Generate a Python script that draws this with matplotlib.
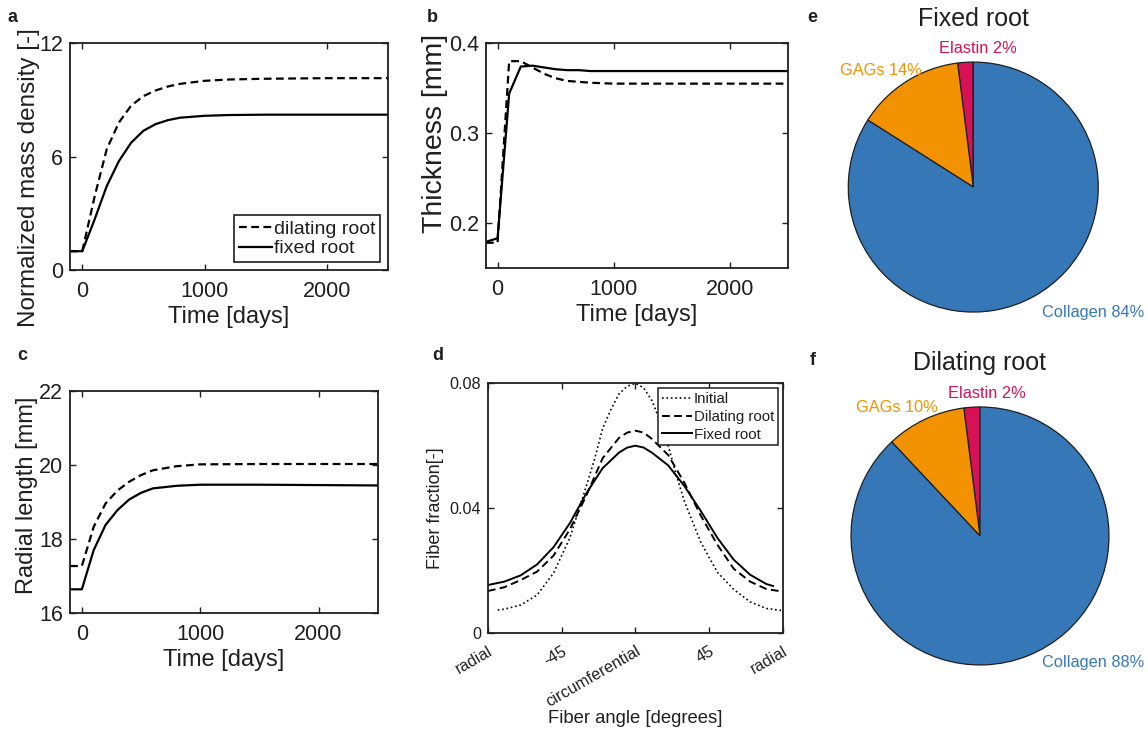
import numpy as np
import matplotlib.pyplot as plt
from matplotlib.transforms import ScaledTranslation

plt.rcParams['font.family'] = ['Liberation Sans', 'DejaVu Sans']
plt.rcParams['text.color'] = '#1f1f1f'
plt.rcParams['axes.labelcolor'] = '#1f1f1f'
plt.rcParams['xtick.color'] = '#1f1f1f'
plt.rcParams['ytick.color'] = '#1f1f1f'

# a: normalized mass density
t_a = [-100, 0, 100, 200, 300, 400, 500, 600, 700, 800, 1000, 1200, 1500, 2000, 2500]
dens_dil = [1.0, 1.0, 3.86, 6.39, 7.81, 8.70, 9.20, 9.50, 9.71, 9.85, 10.01, 10.08, 10.12, 10.15, 10.15]
dens_fix = [1.0, 1.0, 2.66, 4.44, 5.77, 6.74, 7.37, 7.72, 7.93, 8.06, 8.16, 8.20, 8.22, 8.22, 8.22]

# b: thickness
t_b = [-100, 0, 100, 200, 300, 400, 500, 600, 700, 800, 1000, 1500, 2500]
thick_dil = [0.178, 0.178, 0.380, 0.380, 0.373, 0.366, 0.361, 0.358, 0.357, 0.356, 0.355, 0.355, 0.355]
thick_fix = [0.179, 0.183, 0.344, 0.374, 0.375, 0.373, 0.371, 0.370, 0.370, 0.369, 0.369, 0.369, 0.369]

# c: radial length
t_c = [-100, 0, 100, 200, 300, 400, 500, 600, 800, 1000, 1500, 2000, 2500]
rad_dil = [17.27, 17.27, 18.33, 18.96, 19.31, 19.55, 19.73, 19.86, 19.97, 20.02, 20.03, 20.03, 20.03]
rad_fix = [16.64, 16.64, 17.70, 18.38, 18.78, 19.07, 19.25, 19.37, 19.44, 19.47, 19.47, 19.46, 19.45]

# d: fiber distributions
ang_init = [-84, -80, -70, -60, -50, -40, -30, -25, -20, -15, -10, -5, 0, 5, 10, 15, 20, 25, 30, 40, 50, 60, 70, 80, 90]
frac_init = [0.0074, 0.0077, 0.0090, 0.0122, 0.0192, 0.0305, 0.0470, 0.0556, 0.0655, 0.0715, 0.0766, 0.0790, 0.0800,
             0.0785, 0.0745, 0.0680, 0.0600, 0.0505, 0.0420, 0.0290, 0.0195, 0.0140, 0.0100, 0.0079, 0.0072]
ang_dil = [-90, -80, -70, -60, -50, -40, -30, -20, -10, -5, 0, 5, 10, 20, 30, 40, 50, 60, 70, 80, 90]
frac_dil = [0.0135, 0.0147, 0.0170, 0.0197, 0.0248, 0.0332, 0.0440, 0.0560, 0.0625, 0.0642, 0.0648,
            0.0642, 0.0622, 0.0570, 0.0480, 0.0375, 0.0283, 0.0206, 0.0165, 0.0141, 0.0133]
ang_fix = [-90, -80, -70, -60, -50, -40, -30, -20, -10, -5, 0, 5, 10, 20, 30, 40, 50, 60, 70, 80, 84]
frac_fix = [0.0154, 0.0165, 0.0185, 0.0220, 0.0275, 0.0352, 0.0447, 0.0528, 0.0578, 0.0594, 0.0600,
            0.0594, 0.0578, 0.0537, 0.0470, 0.0390, 0.0305, 0.0235, 0.0187, 0.0157, 0.0151]
ang_ticks = [-90, -45, 0, 45, 90]
ang_labels = ['radial', '-45', 'circumferential', '45', 'radial']

# e, f: composition
components = ['Elastin', 'GAGs', 'Collagen']
pct_fixed = [2, 14, 84]
pct_dilating = [2, 10, 88]
comp_colors = ['#d81056', '#f39200', '#3677b8']

fig = plt.figure(figsize=(11.48, 7.32), dpi=100)


def style_axes(ax, fs, xpad=8):
    for s in ax.spines.values():
        s.set_linewidth(1.3)
        s.set_color('#1f1f1f')
    ax.tick_params(direction='in', top=True, right=True, length=4, width=1.0,
                   labelsize=fs, pad=5)
    ax.tick_params(axis='x', pad=xpad)


def px_shift(dx, dy):
    return ScaledTranslation(dx / 100, -dy / 100, fig.dpi_scale_trans)


ax_a = fig.add_axes([0.061, 0.631, 0.277, 0.310])
ax_a.plot(t_a, dens_dil, 'k--', lw=1.6, dashes=(3.5, 2), label='dilating root')
ax_a.plot(t_a, dens_fix, 'k-', lw=1.6, label='fixed root')
ax_a.set_xlim(-100, 2500)
ax_a.set_ylim(0, 12)
ax_a.set_xticks([0, 1000, 2000])
ax_a.set_yticks([0, 6, 12])
ax_a.set_xlabel('Time [days]', fontsize=17, labelpad=3)
ax_a.set_ylabel('Normalized mass density [-]', fontsize=17.5)
ax_a.yaxis.set_label_coords(-0.095, 0.41)
style_axes(ax_a, 15.5)
leg = ax_a.legend(loc='lower right', fontsize=14, handlelength=1.7, handletextpad=0.1,
                  labelspacing=0.1, borderpad=0.25, borderaxespad=0.4, fancybox=False,
                  framealpha=1, edgecolor='#1f1f1f')
leg.get_frame().set_linewidth(1.2)

ax_b = fig.add_axes([0.4233, 0.634, 0.263, 0.307])
ax_b.plot(t_b, thick_dil, 'k--', lw=1.6, dashes=(3.5, 2))
ax_b.plot(t_b, thick_fix, 'k-', lw=1.6)
ax_b.set_xlim(-100, 2500)
ax_b.set_ylim(0.15, 0.4)
ax_b.set_xticks([0, 1000, 2000])
ax_b.set_yticks([0.2, 0.3, 0.4])
ax_b.set_yticklabels(['0.2', '0.3', '0.4'])
ax_b.set_xlabel('Time [days]', fontsize=17, labelpad=3)
ax_b.set_ylabel('Thickness [mm]', fontsize=20.5)
ax_b.yaxis.set_label_coords(-0.125, 0.60)
style_axes(ax_b, 15.5)

ax_c = fig.add_axes([0.061, 0.1626, 0.268, 0.303])
ax_c.plot(t_c, rad_dil, 'k--', lw=1.6, dashes=(3.5, 2))
ax_c.plot(t_c, rad_fix, 'k-', lw=1.6)
ax_c.set_xlim(-100, 2500)
ax_c.set_ylim(16, 22)
ax_c.set_xticks([0, 1000, 2000])
ax_c.set_yticks([16, 18, 20, 22])
ax_c.set_xlabel('Time [days]', fontsize=17, labelpad=3)
ax_c.set_ylabel('Radial length [mm]', fontsize=17)
ax_c.yaxis.set_label_coords(-0.105, 0.53)
style_axes(ax_c, 15.5)

ax_d = fig.add_axes([0.425, 0.135, 0.257, 0.3415])
ax_d.plot(ang_init, frac_init, 'k:', lw=1.2, label='Initial')
ax_d.plot(ang_dil, frac_dil, 'k--', lw=1.4, dashes=(4, 2.2), label='Dilating root')
ax_d.plot(ang_fix, frac_fix, 'k-', lw=1.4, label='Fixed root')
ax_d.set_xlim(-90, 90)
ax_d.set_ylim(0, 0.08)
ax_d.set_yticks([0, 0.04, 0.08])
ax_d.set_yticklabels(['0', '0.04', '0.08'])
ax_d.set_xticks(ang_ticks)
ax_d.set_xticklabels(ang_labels, rotation=30, ha='right', va='center', rotation_mode='anchor')
style_axes(ax_d, 11.7, xpad=12)
for lab in ax_d.get_xticklabels():
    lab.set_transform(lab.get_transform() + px_shift(4, 0))
ax_d.set_xlabel('Fiber angle [degrees]', fontsize=13.3, labelpad=0)
ax_d.set_ylabel('Fiber fraction[-]', fontsize=13.1, labelpad=4)
leg = ax_d.legend(loc='upper right', fontsize=10.8, handlelength=2.0, handletextpad=0.1,
                  labelspacing=0.25, borderpad=0.25, borderaxespad=0.35, fancybox=False,
                  framealpha=1, edgecolor='#1f1f1f')
leg.get_frame().set_linewidth(1.1)


def draw_pie(ax, pct, title, pad, shifts):
    labels = [f'{n} {p}%' for n, p in zip(components, pct)]
    wedges, texts = ax.pie(pct, labels=labels, colors=comp_colors, startangle=90,
                           counterclock=True, labeldistance=1.1,
                           wedgeprops=dict(edgecolor='#1f1f1f', linewidth=0.9),
                           textprops=dict(fontsize=11.8))
    for txt, col, (dx, dy) in zip(texts, comp_colors, shifts):
        txt.set_color(col)
        txt.set_transform(txt.get_transform() + px_shift(dx, dy))
    ax.set_title(title, fontsize=18, pad=pad)


ax_e = fig.add_axes([0.7117, 0.531, 0.2722, 0.4269])
draw_pie(ax_e, pct_fixed, 'Fixed root', -2, [(52, -1), (22, 0), (2, 5)])
ax_f = fig.add_axes([0.7132, 0.0475, 0.2809, 0.4406])
draw_pie(ax_f, pct_dilating, 'Dilating root', 0, [(55, -1), (18, 0), (10, -5)])

for letter, x, y in [('a', 13, 18), ('b', 432, 18), ('c', 22, 355),
                     ('d', 438, 355), ('e', 812, 18), ('f', 813, 361)]:
    fig.text(x / 1148, 1 - y / 732, letter, fontsize=13, fontweight='bold',
             ha='center', va='center')

fig.savefig('out.png', dpi=100, facecolor='white')
